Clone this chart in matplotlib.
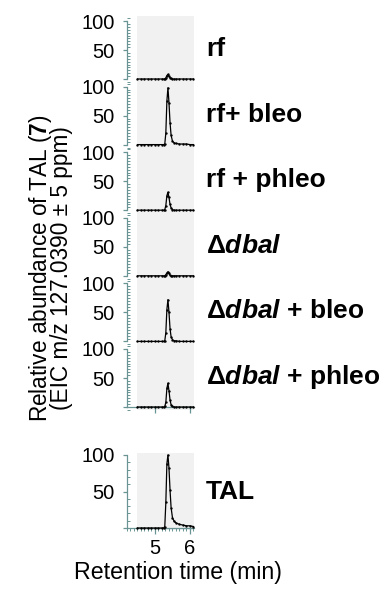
import matplotlib
matplotlib.use("Agg")
import matplotlib.pyplot as plt
from matplotlib.ticker import MultipleLocator, FixedLocator

plt.rcParams['font.family'] = ['Liberation Sans', 'DejaVu Sans']
plt.rcParams['mathtext.fontset'] = 'custom'
plt.rcParams['mathtext.rm'] = 'Liberation Sans'
plt.rcParams['mathtext.bf'] = 'Liberation Sans:weight=bold'
plt.rcParams['mathtext.it'] = 'Liberation Sans:style=italic:weight=bold'

# ---- data ----
times = [4.50, 4.60, 4.70, 4.80, 4.90, 5.00, 5.10, 5.20, 5.25, 5.28, 5.31, 5.34,
         5.37, 5.40, 5.43, 5.46, 5.50, 5.55, 5.60, 5.70, 5.80, 5.90, 6.00, 6.10]
rf         = [0, 0, 0, 0, 0, 0, 0, 0, 0, 0, 2, 6, 8, 5, 2, 1, 0, 0, 0, 0, 0, 0, 0, 0]
rf_bleo    = [0, 0, 0, 0, 0, 0, 0, 0, 0, 1, 20, 75, 98, 72, 38, 16, 6, 3, 2, 1, 1, 1, 0, 0]
rf_phleo   = [0, 0, 0, 0, 0, 0, 0, 0, 0, 1, 8, 25, 31, 22, 10, 4, 1, 0, 0, 0, 0, 0, 0, 0]
dbal       = [0, 0, 0, 0, 0, 0, 0, 0, 0, 0, 2, 5, 7, 4, 1, 0, 0, 0, 0, 0, 0, 0, 0, 0]
dbal_bleo  = [0, 0, 0, 0, 0, 0, 0, 0, 0, 1, 15, 55, 72, 50, 22, 8, 3, 1, 1, 0, 0, 0, 0, 0]
dbal_phleo = [0, 0, 0, 0, 0, 0, 0, 0, 0, 1, 8, 32, 41, 28, 12, 4, 1, 0, 0, 0, 0, 0, 0, 0]
tal        = [0, 0, 0, 0, 0, 0, 0, 0, 0, 2, 35, 88, 100, 82, 52, 28, 14, 9, 7, 5, 4, 3, 3, 2]

sample_series = [rf, rf_bleo, rf_phleo, dbal, dbal_bleo, dbal_phleo]
sample_labels = ["rf", "rf+ bleo", "rf + phleo", r"Δ$\mathit{dbal}$",
                 r"Δ$\mathit{dbal}$ + bleo", r"Δ$\mathit{dbal}$ + phleo"]
ytick_vals = [0, 50, 100]
ytick_labels = ["", "50", "100"]
xtick_vals = [5, 6]
xtick_labels = ["5", "6"]

# ---- layout ----
W, H = 387, 591
fig = plt.figure(figsize=(W / 100, H / 100), dpi=100)
SPINE = '#6a9494'
GRAY = '#f1f1f1'
XL = (4.2, 6.115)
TICK_FS = 14.5
LABEL_FS = 19


def add_ax(left, top, right, bottom):
    return fig.add_axes([left / W, 1 - bottom / H, (right - left) / W, (bottom - top) / H])


def style_ax(ax, ylim, minor_step, show_x):
    ax.set_xlim(*XL)
    ax.set_ylim(*ylim)
    ax.axvspan(times[0], XL[1], color=GRAY, lw=0, zorder=0)
    for s in ['top', 'right']:
        ax.spines[s].set_visible(False)
    ax.spines['left'].set_bounds(0, 100)
    ax.spines['left'].set_color(SPINE)
    ax.spines['left'].set_linewidth(0.9)
    ax.yaxis.set_major_locator(FixedLocator(ytick_vals))
    ax.set_yticklabels(ytick_labels)
    ax.yaxis.set_minor_locator(MultipleLocator(minor_step))
    ax.tick_params(axis='y', which='major', direction='out', length=3, width=0.9,
                   color=SPINE, labelsize=TICK_FS, pad=6)
    ax.tick_params(axis='y', which='minor', direction='in', length=2.5, width=0.7,
                   color=SPINE)
    if show_x:
        ax.spines['bottom'].set_position(('data', 0))
        ax.spines['bottom'].set_bounds(XL[0], XL[1] - 0.01)
        ax.spines['bottom'].set_color(SPINE)
        ax.spines['bottom'].set_linewidth(0.9)
        ax.set_xticks(xtick_vals)
        ax.tick_params(axis='x', which='major', direction='out', length=4, width=0.9,
                       color=SPINE)
    else:
        ax.spines['bottom'].set_visible(False)
        ax.set_xticks([])
    ax.set_facecolor('none')


px_per_unit = 0.58
for i, (series, label) in enumerate(zip(sample_series, sample_labels)):
    base = 79 + i * 65.6
    ax = add_ax(127, base - 108 * px_per_unit, 194, base + 5 * px_per_unit)
    style_ax(ax, (-5, 108), 5, show_x=(i == len(sample_series) - 1))
    if i == len(sample_series) - 1:
        ax.set_xticklabels([])
    ax.plot(times, series, color='black', lw=0.9, marker='.', ms=1.4, zorder=3,
            clip_on=False)
    fig.text(206 / W, 1 - (base - 30) / H, label, fontsize=LABEL_FS, fontweight='bold',
             ha='left', va='center')

# TAL standard
ax = add_ax(127, 528 - 103 * 0.73, 194, 528 + 3 * 0.73)
style_ax(ax, (-3, 103), 10, show_x=True)
ax.set_xticklabels(xtick_labels)
ax.xaxis.set_minor_locator(MultipleLocator(0.1))
ax.tick_params(axis='x', which='minor', direction='out', length=2, width=0.7, color=SPINE)
ax.tick_params(axis='x', which='major', labelsize=TICK_FS, pad=4)
ax.plot(times, tal, color='black', lw=0.9, marker='.', ms=1.4, zorder=3, clip_on=False)
fig.text(206 / W, 1 - 492 / H, "TAL", fontsize=LABEL_FS, fontweight='bold',
         ha='left', va='center')

# axis titles
fig.text(50 / W, 1 - 268 / H,
         "Relative abundance of TAL ($\\mathbf{7}$)\n(EIC m/z 127.0390 ± 5 ppm)",
         rotation=90, fontsize=16.3, ha='center', va='center', multialignment='center',
         linespacing=0.82)
fig.text(178 / W, 1 - 572 / H, "Retention time (min)", fontsize=16.7,
         ha='center', va='center')

fig.savefig("out.png", dpi=100)
